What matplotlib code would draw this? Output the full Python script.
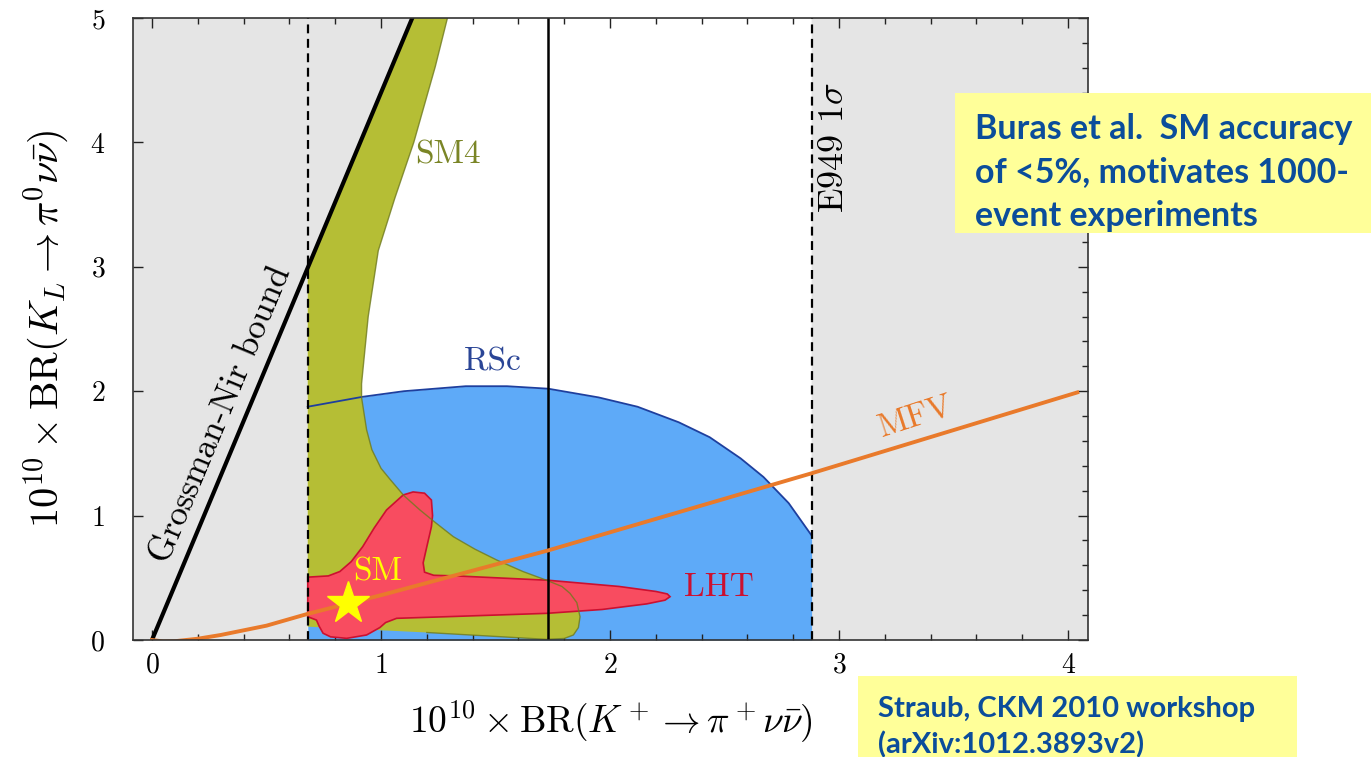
import matplotlib
matplotlib.use("Agg")
import matplotlib.pyplot as plt
from matplotlib.patches import Polygon, Rectangle
from matplotlib.ticker import MultipleLocator

plt.rcParams['font.family'] = ['cmr10', 'DejaVu Sans']
plt.rcParams['mathtext.fontset'] = 'cm'
plt.rcParams['axes.formatter.use_mathtext'] = True

# E949 1 sigma band for BR(K+ -> pi+ nu nubar) and Grossman-Nir bound
e949_lo, e949_central, e949_hi = 0.68, 1.73, 2.88
gn_slope = 4.4

# SM prediction
sm_x, sm_y = 0.855, 0.295

# SM4 region (outline)
sm4_x = [1.29, 1.237, 1.143, 1.06, 0.988, 0.944, 0.915, 0.915, 0.937, 0.96, 1.0, 1.04, 1.10,
         1.17, 1.24, 1.316, 1.41, 1.505, 1.62, 1.723, 1.79, 1.825, 1.855, 1.869, 1.862, 1.84,
         1.80, 1.723, 1.2, 0.68, 0.68, 1.136]
sm4_y = [5.0, 4.61, 4.0, 3.55, 3.13, 2.6, 2.06, 1.95, 1.69, 1.53, 1.38, 1.29, 1.16,
         1.045, 0.94, 0.83, 0.73, 0.643, 0.55, 0.48, 0.43, 0.375, 0.30, 0.187, 0.10, 0.04,
         0.012, 0.005, 0.06, 0.107, 2.99, 5.0]

# RSc region (upper boundary, filled down to 0)
rsc_x = [0.68, 0.92, 1.1, 1.37, 1.55, 1.73, 1.95, 2.12, 2.3, 2.435, 2.57, 2.67, 2.78, 2.88]
rsc_y = [1.875, 1.955, 2.0, 2.04, 2.04, 2.02, 1.95, 1.875, 1.75, 1.63, 1.46, 1.31, 1.10, 0.84]

# LHT region (outline)
lht_x = [0.68, 0.77, 0.82, 0.87, 0.92, 0.97, 1.024, 1.097, 1.14, 1.19, 1.22, 1.225, 1.22,
         1.20, 1.184, 1.19, 1.23, 1.34, 1.73, 2.04, 2.20, 2.25, 2.262, 2.24, 2.16, 1.965,
         1.723, 1.286, 1.068, 1.02, 0.995, 0.937, 0.85, 0.78, 0.747, 0.73, 0.718, 0.68]
lht_y = [0.505, 0.515, 0.55, 0.63, 0.75, 0.90, 1.045, 1.166, 1.19, 1.18, 1.125, 1.0, 0.91,
         0.75, 0.62, 0.545, 0.52, 0.514, 0.48, 0.43, 0.39, 0.37, 0.348, 0.32, 0.29, 0.245,
         0.214, 0.187, 0.174, 0.14, 0.10, 0.04, 0.013, 0.025, 0.054, 0.11, 0.16, 0.187]

# MFV curve
mfv_x = [0.0, 0.05, 0.1, 0.2, 0.3, 0.5, 0.68, 0.85, 1.0, 1.73, 2.88, 4.04]
mfv_y = [0.0, -0.012, -0.01, 0.01, 0.04, 0.115, 0.21, 0.29, 0.36, 0.72, 1.34, 1.99]

gray = '#e5e5e5'
olive, olive_edge = '#b5be35', '#6f7a1d'
blue, blue_edge = '#5eaaf8', '#1e3f9e'
red, red_edge = '#f84c60', '#cc1030'
orange = '#e97a2b'
box_yellow, box_text = '#ffff99', '#0b4d9b'

fig = plt.figure(figsize=(13.71, 7.57), dpi=100)
ax = fig.add_axes([0.097, 0.1546, 0.6966, 0.8216])
ax.set_xlim(-0.083, 4.087)
ax.set_ylim(0, 5)
ax.set_facecolor(gray)

# allowed (white) region: inside E949 band and below Grossman-Nir bound
allowed = Polygon([(e949_lo, 0), (e949_hi, 0), (e949_hi, 5), (5 / gn_slope, 5),
                   (e949_lo, gn_slope * e949_lo)], closed=True, fc='white', ec='none', zorder=0.5)
ax.add_patch(allowed)

# RSc
ax.fill_between(rsc_x, 0, rsc_y, color=blue, lw=0, zorder=1)
# SM4
ax.add_patch(Polygon(list(zip(sm4_x, sm4_y)), closed=True, fc=olive, ec='none', zorder=2))
ax.plot(sm4_x[:-3], sm4_y[:-3], color=olive_edge, lw=1.0, zorder=4.5, alpha=0.8)
ax.plot(rsc_x, rsc_y, color=blue_edge, lw=1.3, zorder=3)
# LHT
ax.add_patch(Polygon(list(zip(lht_x, lht_y)), closed=True, fc=red, ec=red_edge, lw=1.2, zorder=4))

# E949 lines
ax.axvline(e949_lo, color='black', lw=1.6, ls=(0, (4, 2.5)), zorder=5)
ax.axvline(e949_hi, color='black', lw=1.6, ls=(0, (4, 2.5)), zorder=5)
ax.axvline(e949_central, color='black', lw=1.8, zorder=5)

# Grossman-Nir bound
ax.plot([0, 5 / gn_slope * 1.1], [0, 5 * 1.1], color='black', lw=3, zorder=5,
        solid_capstyle='butt')

# MFV
ax.plot(mfv_x, mfv_y, color=orange, lw=2.8, zorder=6, clip_on=True)

# SM point
ax.plot(sm_x, sm_y, marker='*', ms=32, color='#ffff00', mec='#ffff00', zorder=7)

# labels inside the plot
fs = 24
ax.text(1.292, 3.90, 'SM4', color='#7a8526', fontsize=fs, ha='center', va='center', zorder=8)
ax.text(1.489, 2.235, 'RSc', color='#2a4596', fontsize=fs, ha='center', va='center', zorder=8)
ax.text(2.476, 0.418, 'LHT', color=red_edge, fontsize=fs, ha='center', va='center', zorder=8)
ax.text(0.987, 0.547, 'SM', color='#ffff00', fontsize=fs, ha='center', va='center', zorder=8)
ax.text(3.335, 1.80, 'MFV', color=orange, fontsize=fs, ha='center', va='center',
        rotation=18, rotation_mode='anchor', zorder=8)
ax.text(0.303, 1.81, 'Grossman-Nir bound', color='black', fontsize=25, ha='center',
        va='center', rotation=67.3, rotation_mode='anchor', zorder=8)
ax.text(2.98, 3.96, r'E949 $1\sigma$', color='black', fontsize=26, ha='center',
        va='center', rotation=90, zorder=8)

# axes and ticks
ax.xaxis.set_major_locator(MultipleLocator(1))
ax.xaxis.set_minor_locator(MultipleLocator(0.2))
ax.yaxis.set_major_locator(MultipleLocator(1))
ax.yaxis.set_minor_locator(MultipleLocator(0.2))
ax.tick_params(which='both', direction='in', top=True, right=True, width=1.0, color='#222222')
ax.tick_params(which='major', length=7)
ax.tick_params(which='minor', length=4, left=False)
ax.tick_params(axis='x', labelsize=20, pad=9)
ax.tick_params(axis='y', labelsize=20, pad=20)
for sp in ax.spines.values():
    sp.set_linewidth(1.2)
    sp.set_color('#333333')
    sp.set_zorder(9)

ax.set_xlabel(r'$10^{10} \times \mathrm{BR}(K^+ \to \pi^+ \nu\bar{\nu})$', fontsize=27, labelpad=14)
ax.set_ylabel(r'$10^{10} \times \mathrm{BR}(K_L \to \pi^0 \nu\bar{\nu})$', fontsize=29, labelpad=14)

# annotation boxes
fig.patches.append(Rectangle((955 / 1371, 1 - 233 / 757), 416 / 1371, 140 / 757,
                             transform=fig.transFigure, fc=box_yellow, ec='none', zorder=10))
box_lines = ['Buras et al.  SM accuracy', 'of <5%, motivates 1000-', 'event experiments']
for i, line in enumerate(box_lines):
    fig.text(975 / 1371, 1 - (139 + 43.5 * i) / 757, line, color=box_text, fontsize=24.5,
             fontweight='bold', family='Lato', ha='left', va='baseline', zorder=11)

fig.patches.append(Rectangle((858 / 1371, -0.02), 439 / 1371, (757 - 676) / 757 + 0.02,
                             transform=fig.transFigure, fc=box_yellow, ec='none', zorder=10))
ref_lines = ['Straub, CKM 2010 workshop', '(arXiv:1012.3893v2)']
for i, line in enumerate(ref_lines):
    fig.text(878 / 1371, 1 - (717 + 36 * i) / 757, line, color=box_text, fontsize=21,
             fontweight='bold', family='Lato', ha='left', va='baseline', zorder=11)

fig.savefig('out.png', dpi=100)
